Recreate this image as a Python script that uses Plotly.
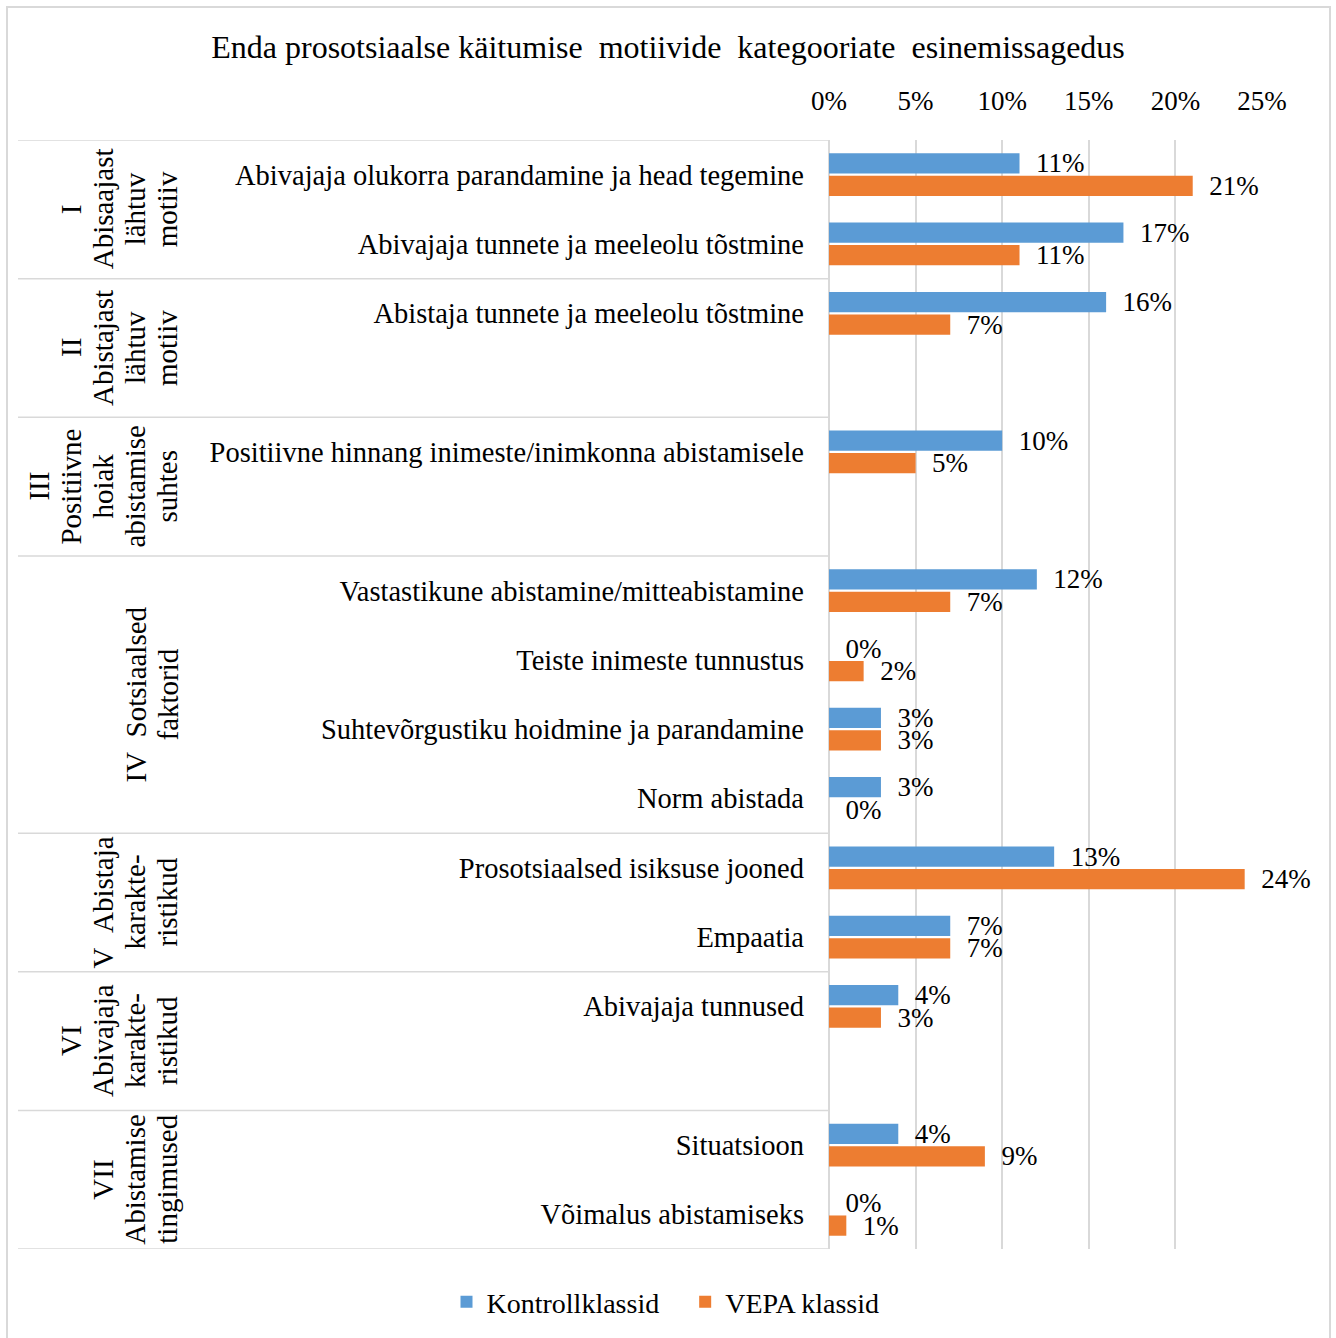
import plotly.graph_objects as go

# ---------------- data ----------------
categories = [
    "Abivajaja olukorra parandamine ja head tegemine",
    "Abivajaja tunnete ja meeleolu tõstmine",
    "Abistaja tunnete ja meeleolu tõstmine",
    "Positiivne hinnang inimeste/inimkonna abistamisele",
    "Vastastikune abistamine/mitteabistamine",
    "Teiste inimeste tunnustus",
    "Suhtevõrgustiku hoidmine ja parandamine",
    "Norm abistada",
    "Prosotsiaalsed isiksuse jooned",
    "Empaatia",
    "Abivajaja tunnused",
    "Situatsioon",
    "Võimalus abistamiseks",
]
category_group = [0, 0, 1, 2, 3, 3, 3, 3, 4, 4, 5, 6, 6]

group_labels = [
    ["I", "Abisaajast", "lähtuv", "motiiv"],
    ["II", "Abistajast", "lähtuv", "motiiv"],
    ["III", "Positiivne", "hoiak", "abistamise", "suhtes"],
    ["IV\u00a0\u00a0Sotsiaalsed", "faktorid"],
    ["V\u00a0\u00a0Abistaja", "karakte-", "ristikud"],
    ["VI", "Abivajaja", "karakte-", "ristikud"],
    ["VII", "Abistamise", "tingimused"],
]
group_slots = [2, 2, 2, 4, 2, 2, 2]

kontroll = [0.11, 0.17, 0.16, 0.10, 0.12, 0.00, 0.03, 0.03, 0.13, 0.07, 0.04, 0.04, 0.00]
vepa = [0.21, 0.11, 0.07, 0.05, 0.07, 0.02, 0.03, 0.00, 0.24, 0.07, 0.03, 0.09, 0.01]

series_names = ["Kontrollklassid", "VEPA klassid"]
x_ticks = [0, 0.05, 0.10, 0.15, 0.20, 0.25]

title_text = "Enda prosotsiaalse käitumise\u00a0 motiivide\u00a0 kategooriate\u00a0 esinemissagedus"

# ---------------- slot layout (derived from groups) ----------------
group_start = []
s = 0
for n in group_slots:
    group_start.append(s)
    s += n
total_slots = s
slot_pos = []
counter = {}
for g in category_group:
    k = counter.get(g, 0)
    slot_pos.append(group_start[g] + k)
    counter[g] = k + 1

# ---------------- geometry (pixels) ----------------
W, H = 1336, 1338
PL, PR, PT, PB = 829, 1262, 140, 1250
pw, ph = PR - PL, PB - PT

def px_x(p):
    return (p - PL) / pw

def px_y(p):
    return (PB - p) / ph

FONT = "Liberation Serif"
BLUE = "#5B9BD5"
ORANGE = "#ED7D31"
GRID = "#D9D9D9"

fig = go.Figure()
for name, vals, col in [(series_names[0], kontroll, BLUE), (series_names[1], vepa, ORANGE)]:
    fig.add_trace(go.Bar(
        name=name + "\u00a0\u00a0\u00a0", x=vals, y=slot_pos, orientation="h",
        marker=dict(color=col, line=dict(width=0)),
        texttemplate="\u00a0\u00a0%{x:.0%}", textposition="outside",
        constraintext="none",
        outsidetextfont=dict(family=FONT, size=27, color="#000000"),
        cliponaxis=False,
    ))

shapes = []
# group separators (left region)
bounds = [g - 0.5 for g in group_start] + [total_slots - 0.5]
for b in bounds:
    shapes.append(dict(type="line", xref="paper", yref="y",
                       x0=px_x(18), x1=0, y0=b, y1=b,
                       line=dict(color=GRID, width=1.5)))
# outer border
shapes.append(dict(type="rect", xref="paper", yref="paper",
                   x0=px_x(7), x1=px_x(1330), y0=px_y(1345), y1=px_y(7),
                   line=dict(color=GRID, width=2), fillcolor="rgba(0,0,0,0)", layer="below"))

annotations = []
LAST_LINE_X = 167
LINE_STEP = 32
for g, lines in enumerate(group_labels):
    center = group_start[g] + (group_slots[g] - 1) / 2
    n = len(lines)
    for i, line in enumerate(lines):
        xc = LAST_LINE_X - (n - 1 - i) * LINE_STEP
        annotations.append(dict(
            text=line, textangle=-90, xref="paper", yref="y",
            x=0, y=center, xshift=xc - PL, xanchor="center", yanchor="middle",
            align="center", showarrow=False,
            font=dict(family=FONT, size=29, color="#000000"),
        ))

fig.update_layout(
    width=W, height=H,
    margin=dict(l=PL, r=W - PR, t=PT, b=H - PB, pad=0),
    paper_bgcolor="white", plot_bgcolor="white",
    barmode="group", bargap=0.35, bargroupgap=0.1,
    title=dict(text=title_text, x=0.5, xanchor="center", y=1 - 47 / H, yanchor="middle",
               font=dict(family=FONT, size=32, color="#000000")),
    xaxis=dict(side="top", range=[0, 0.25], tickvals=x_ticks, tickformat=".0%",
               showgrid=True, gridcolor=GRID, gridwidth=1.5,
               zeroline=True, zerolinecolor=GRID, zerolinewidth=1.5,
               showline=False, ticks="", ticklabelstandoff=24,
               tickfont=dict(family=FONT, size=27, color="#000000"), fixedrange=True),
    yaxis=dict(range=[total_slots - 0.5, -0.5], tickvals=slot_pos, ticktext=categories,
               showgrid=False, zeroline=False, showline=False, ticks="",
               ticklabelstandoff=24,
               tickfont=dict(family=FONT, size=28.5, color="#000000"), fixedrange=True),
    legend=dict(orientation="h", x=px_x(676), xanchor="center", y=px_y(1302), yanchor="middle",
                font=dict(family=FONT, size=28, color="#000000"), itemwidth=30,
                traceorder="normal"),
    shapes=shapes, annotations=annotations,
    font=dict(family=FONT),
)

fig.write_html("out.html")
